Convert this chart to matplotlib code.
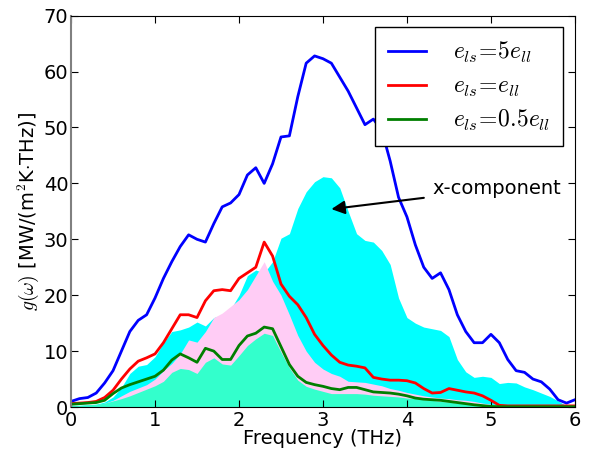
import numpy as np
import matplotlib
matplotlib.use("Agg")
import matplotlib.pyplot as plt

plt.rcParams["mathtext.fontset"] = "cm"
plt.rcParams["font.family"] = "DejaVu Sans"

# frequency grid (THz)
freq = np.round(np.arange(0, 6.01, 0.1), 2)

# total g(w) for the three coupling strengths
g_5ell = [1.0, 1.5, 1.7, 2.5, 4.3, 6.5, 10.0, 13.5, 15.5, 16.5,
          19.5, 23.0, 26.0, 28.7, 30.8, 30.0, 29.5, 32.8, 35.8, 36.5,
          38.0, 41.5, 42.8, 40.0, 43.5, 48.3, 48.5, 55.5, 61.5, 62.8,
          62.3, 61.5, 59.0, 56.5, 53.5, 50.5, 51.5, 49.5, 44.0, 37.5,
          34.0, 29.0, 25.0, 23.0, 24.0, 21.0, 16.5, 13.5, 11.5, 11.5,
          13.0, 11.5, 8.5, 6.5, 6.2, 5.0, 4.5, 3.2, 1.3, 0.7, 1.3]
g_ell = [0.6, 0.7, 0.8, 1.0, 1.7, 3.0, 5.0, 6.8, 8.2, 8.8,
         9.5, 11.5, 14.0, 16.5, 16.5, 16.0, 19.0, 20.8, 21.0, 20.8,
         23.0, 24.0, 25.0, 29.5, 27.0, 22.0, 19.8, 18.3, 16.0, 13.0,
         11.0, 9.3, 8.0, 7.5, 7.3, 7.0, 5.3, 5.0, 4.8, 4.8,
         4.7, 4.3, 3.3, 2.5, 2.6, 3.3, 3.0, 2.7, 2.5, 2.0,
         1.2, 0.3, 0.2, 0.2, 0.2, 0.2, 0.2, 0.2, 0.2, 0.2, 0.2]
g_05ell = [0.5, 0.6, 0.7, 0.8, 1.2, 2.4, 3.4, 4.0, 4.5, 5.0,
           5.5, 6.6, 8.4, 9.5, 8.8, 8.0, 10.5, 10.0, 8.5, 8.5,
           11.0, 12.7, 13.2, 14.3, 14.0, 10.8, 7.6, 5.5, 4.4, 4.0,
           3.7, 3.3, 3.1, 3.5, 3.5, 3.1, 2.7, 2.6, 2.5, 2.3,
           2.0, 1.6, 1.4, 1.3, 1.2, 1.0, 0.8, 0.6, 0.4, 0.25,
           0.1, 0.05, 0.05, 0.05, 0.05, 0.05, 0.05, 0.05, 0.05, 0.05, 0.05]

# x-components (filled)
gx_5ell = [0.3, 0.3, 0.4, 0.5, 0.9, 1.8, 3.5, 6.0, 7.3, 7.6,
           9.0, 11.5, 13.5, 13.8, 14.3, 15.2, 14.5, 16.0, 16.5, 17.5,
           20.0, 23.5, 24.5, 24.0, 26.0, 30.2, 31.0, 35.5, 38.5, 40.3,
           41.2, 41.0, 39.2, 35.0, 31.0, 29.8, 29.5, 28.0, 25.5, 19.5,
           16.0, 15.0, 14.3, 14.0, 13.7, 12.6, 8.5, 6.3, 5.3, 5.5,
           5.3, 4.2, 4.4, 4.3, 3.6, 3.1, 2.5, 1.9, 1.1, 0.2, 0.1]
gx_ell = [0.2, 0.2, 0.3, 0.4, 0.7, 1.2, 2.0, 2.8, 3.4, 4.0,
          5.0, 6.5, 7.8, 9.5, 12.0, 11.6, 13.5, 16.0, 16.8, 18.0,
          19.2, 21.0, 23.5, 26.0, 22.5, 20.0, 16.5, 12.8, 10.0, 8.0,
          6.8, 6.0, 5.5, 4.6, 4.5, 4.4, 4.1, 3.8, 3.3, 3.0,
          2.6, 2.3, 2.0, 1.8, 1.6, 1.5, 1.3, 1.2, 1.0, 0.7,
          0.5, 0.1, 0.05, 0.05, 0.05, 0.05, 0.05, 0.05, 0.05, 0.05, 0.05]
gx_05ell = [0.3, 0.3, 0.4, 0.5, 0.7, 1.1, 1.5, 2.0, 2.6, 3.2,
            3.8, 4.6, 6.2, 6.9, 6.7, 6.0, 8.0, 8.8, 7.7, 7.5,
            9.2, 11.0, 12.2, 13.2, 12.8, 9.8, 7.0, 4.8, 3.7, 3.2,
            2.8, 2.4, 2.4, 2.4, 2.4, 2.3, 2.1, 2.0, 1.9, 1.8,
            1.6, 1.5, 1.3, 1.2, 1.0, 0.9, 0.7, 0.6, 0.4, 0.2,
            0.1, 0.05, 0.05, 0.05, 0.05, 0.05, 0.05, 0.05, 0.05, 0.05, 0.05]

labels = [r"$e_{ls}\!=\!5e_{ll}$", r"$e_{ls}\!=\!e_{ll}$", r"$e_{ls}\!=\!0.5e_{ll}$"]

fig = plt.figure(figsize=(5.97, 4.54), dpi=100)
ax = fig.add_axes([0.119, 0.1035, 0.844, 0.862])

ax.fill_between(freq, 0, gx_5ell, color="#00FFFF", lw=0)
ax.fill_between(freq, 0, gx_ell, color="#FFCCF5", lw=0)
ax.fill_between(freq, 0, gx_05ell, color="#33FFCC", lw=0)

ax.plot(freq, g_5ell, color="#0000FF", lw=2, label=labels[0])
ax.plot(freq, g_ell, color="#FF0000", lw=2, label=labels[1])
ax.plot(freq, g_05ell, color="#007F00", lw=2, label=labels[2])

ax.annotate("x-component", xy=(3.1, 35.4), xytext=(4.3, 39.0),
            fontsize=14, va="center", ha="left",
            arrowprops=dict(arrowstyle="-|>", color="black", lw=1.5,
                            mutation_scale=20, shrinkA=4, shrinkB=0))

ax.set_xlim(0, 6)
ax.set_ylim(0, 70)
ax.set_xticks(range(0, 7))
ax.set_yticks(range(0, 71, 10))
ax.tick_params(direction="in", top=True, right=True, labelsize=14,
               length=5, pad=2)
ax.tick_params(axis="x", pad=3)
ax.spines["left"].set_color("gray")
ax.spines["left"].set_linewidth(1.5)

ax.set_xlabel("Frequency (THz)", fontsize=14, labelpad=-1)
ax.set_ylabel(r"$g(\omega)$ [MW/(m$^2$K$\cdot$THz)]", fontsize=14, labelpad=2)

leg = ax.legend(loc="upper right", fontsize=17, fancybox=False,
                handlelength=1.6, handletextpad=1.15, labelspacing=0.38,
                borderpad=0.55, framealpha=1)
leg.get_frame().set_edgecolor("black")

fig.savefig("out.png", dpi=100)
